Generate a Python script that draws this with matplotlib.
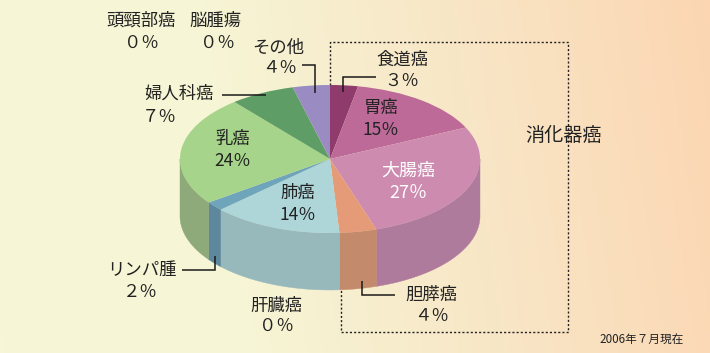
import numpy as np
import matplotlib
matplotlib.use('Agg')
import matplotlib.pyplot as plt
from matplotlib.colors import LinearSegmentedColormap

plt.rcParams['font.family'] = ['Noto Sans CJK JP', 'DejaVu Sans']

# data
categories = ['食道癌', '胃癌', '大腸癌', '胆膵癌', '肝臓癌', '肺癌', 'リンパ腫', '乳癌', '頭頸部癌', '婦人科癌', '脳腫瘍', 'その他']
values = [3, 15, 27, 4, 0, 14, 2, 24, 0, 7, 0, 4]
top_colors = ['#8f3c6c', '#bd6a99', '#cd8bb0', '#e59b78', '#9ab9bd', '#aed5d8', '#6fa5bb', '#a5d48a', '#8ea97a', '#5f9d66', '#8a7fb0', '#9a8cc2']
wall_colors = ['#6f3055', '#95557a', '#af7b9c', '#c48a6c', '#98b9bc', '#98b9bc', '#5d879d', '#8ea97a', '#8ea97a', '#4f8355', '#8a7fb0', '#8a7fb0']
group_label = '消化器癌'
note = '2006年７月現在'

W, H = 710, 353
fig = plt.figure(figsize=(W / 100, H / 100), dpi=100)

# background, pixel-coordinate axes
bg = fig.add_axes([0, 0, 1, 1])
bg.set_xlim(0, W)
bg.set_ylim(H, 0)
bg.axis('off')
cmap = LinearSegmentedColormap.from_list('bg', ['#f6f7d7', '#f6f5d5', '#f8e6c6', '#fcd6b2'], N=256)
xx, yy = np.meshgrid(np.linspace(0, 1, 200), np.linspace(0, 1, 100))
bg.imshow(xx * 0.93 + (1 - yy) * 0.07, extent=(0, W, H, 0), cmap=cmap, vmin=0, vmax=1, aspect='auto', zorder=0)

# dotted bracket around the digestive group
bg.plot([330, 330, 568, 568, 341, 341], [85, 42, 42, 332, 332, 290], color='#222222', lw=1.0,
        dashes=(1.5, 1.5), dash_joinstyle='miter', zorder=1)

# pie axes: squashed to an ellipse
cx, cy, rx, ry, depth = 330, 159, 150, 74, 57
ax = fig.add_axes([(cx - rx) / W, 1 - (cy + ry) / H, 2 * rx / W, 2 * ry / H], zorder=3)
ax.patch.set_alpha(0)
fractions = np.cumsum([0] + values) / sum(values)
d = depth / ry
for i, v in enumerate(values):
    if v == 0:
        continue
    a0 = max(fractions[i] * 2 * np.pi, np.pi / 2)
    a1 = min(fractions[i + 1] * 2 * np.pi, 3 * np.pi / 2)
    if a1 <= a0:
        continue
    t = np.linspace(a0, a1, 80)
    x, y = np.sin(t), np.cos(t)
    ax.fill(np.r_[x, x[::-1]], np.r_[y, y[::-1] - d], color=wall_colors[i], lw=0.3, clip_on=False, zorder=1)
ax.pie(values, colors=top_colors, startangle=90, counterclock=False, radius=1, center=(0, 0),
       wedgeprops={'linewidth': 0, 'zorder': 2})
ax.set_aspect('auto')
ax.set_xlim(-1, 1)
ax.set_ylim(-1, 1)
ax.axis('off')

# leader lines drawn above the pie
over = fig.add_axes([0, 0, 1, 1], zorder=4)
over.set_xlim(0, W)
over.set_ylim(H, 0)
over.axis('off')
over.patch.set_alpha(0)
leaders = [
    ([343, 343, 376], [92, 76.5, 76.5]),
    ([302, 315, 315], [65, 65, 93]),
    ([222, 266], [95, 95]),
    ([182, 215, 215], [270, 270, 256]),
    ([361.5, 361.5, 395], [281, 295, 295]),
]
for lx, ly in leaders:
    over.plot(lx, ly, color='#1a1a1a', lw=1.1, solid_joinstyle='miter', solid_capstyle='butt')

FW = str.maketrans('0123456789', '０１２３４５６７８９')


def pct(v):
    return (str(v).translate(FW) if v < 10 else str(v)) + '％'


# name centre, value centre per category
label_pos = {
    '食道癌': ((402, 60), (402, 81)),
    '胃癌': ((381, 108), (381, 130)),
    '大腸癌': ((408, 171), (408, 193)),
    '胆膵癌': ((431, 295), (431, 316)),
    '肝臓癌': ((276, 306), (276, 326)),
    '肺癌': ((298, 193), (298, 215)),
    'リンパ腫': ((142, 270), (140, 292)),
    '乳癌': ((233, 139), (233, 161)),
    '頭頸部癌': ((141, 21), (141, 43)),
    '婦人科癌': ((179, 94), (159, 117)),
    '脳腫瘍': ((215, 21), (217, 43)),
    'その他': ((278, 48), (279, 68)),
}
for name, v in zip(categories, values):
    (nx, ny), (px, py) = label_pos[name]
    big = name == '大腸癌'
    c = 'white' if big else '#222222'
    fs = 13.0 if big else 12.5
    over.text(nx, ny, name, ha='center', va='center', fontsize=fs, color=c)
    over.text(px, py, pct(v), ha='center', va='center', fontsize=fs, color=c)

over.text(564, 135, group_label, ha='center', va='center', fontsize=13.8, color='#222222')
over.text(642, 339, note, ha='center', va='center', fontsize=8.4, color='#222222')

fig.savefig('out.png', dpi=100)
